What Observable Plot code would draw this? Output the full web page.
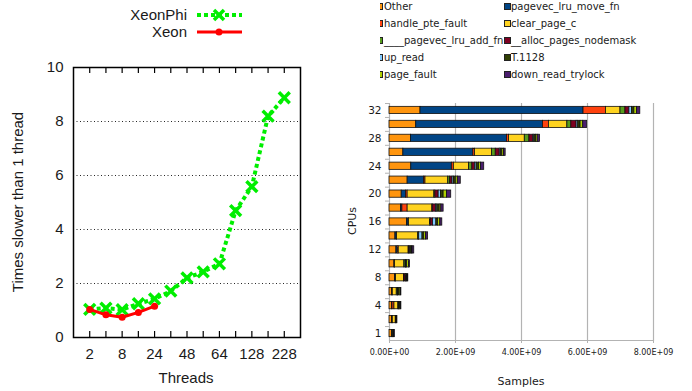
<!DOCTYPE html>
<html><head><meta charset="utf-8">
<script src="https://cdn.jsdelivr.net/npm/d3@7"></script>
<script src="https://cdn.jsdelivr.net/npm/@observablehq/plot@0.6"></script>
<style>
body{margin:0;background:#fff;}
#root{position:relative;width:692px;height:391px;overflow:hidden;background:#fff;}
.abs{position:absolute;white-space:nowrap;}
.l15{font-family:"Liberation Sans",Arial,sans-serif;font-size:15px;color:#1a1a1a;line-height:18px;}
.dv{font-family:"DejaVu Sans",sans-serif;color:#1a1a1a;}
.c{transform:translate(-50%,-50%);}
.rot{transform:translate(-50%,-50%) rotate(-90deg);}
#rlegend{position:absolute;left:380px;top:0;width:312px;height:90px;overflow:hidden;}
.li{position:absolute;font-family:"DejaVu Sans",sans-serif;font-size:10px;line-height:12px;color:#1a1a1a;white-space:nowrap;}
.sw{position:absolute;width:5px;height:5px;border:1px solid #222;}
</style></head><body>
<div id="root">
  <div id="left" class="abs" style="left:0;top:0"></div>
  <div id="right" class="abs" style="left:340px;top:0"></div>
  <div id="llegend"></div>
  <div id="rlegend"></div>
  <div class="abs l15 rot" style="left:18px;top:202px">Times slower than 1 thread</div>
  <div class="abs l15 c" style="left:186px;top:378px">Threads</div>
  <div class="abs dv rot" style="left:352px;top:221px;font-size:11px">CPUs</div>
  <div class="abs dv c" style="left:521px;top:381px;font-size:11px">Samples</div>
</div>
<script>
// ---------- left chart data ----------
const threads = ["2","4","8","16","24","32","48","56","64","96","128","192","228"];
const threadTickLabels = ["2","8","24","48","64","128","228"];
const xeonPhi = [1.04,1.09,1.03,1.25,1.43,1.72,2.21,2.43,2.73,4.70,5.59,8.20,8.88];
const xeon = [1.04,0.84,0.75,0.93,1.16];
const slowTicks = [0,2,4,6,8,10];
const gridLevels = [2,4,6,8];
const seriesLine = ["XeonPhi","Xeon"];
const lineColors = ["#00ee00","#ff0000"];

// ---------- right chart data (values in units of 1e9 samples) ----------
const cpus = ["1","2","4","6","8","10","12","14","16","18","20","22","24","26","28","30","32"];
const cpuTickLabels = ["1","4","8","12","16","20","24","28","32"];
const seriesNames = ["Other","pagevec_lru_move_fn","handle_pte_fault","clear_page_c","____pagevec_lru_add_fn","__alloc_pages_nodemask","up_read","T.1128","page_fault","down_read_trylock"];
const seriesColors = ["#ff950e","#004586","#ff420e","#ffd320","#579d1c","#7e0021","#83caff","#314004","#aecf00","#4b1f6f"];
const other          = [0.08,0.08,0.08,0.08,0.17,0.15,0.21,0.18,0.53,0.35,0.37,0.55,0.66,0.42,0.65,0.81,0.94];
const pagevecLru     = [0.02,0.01,0.01,0.01,0.02,0.01,0.04,0.04,0.05,0.04,0.13,0.50,1.23,2.12,2.91,3.84,4.94];
const handlePte      = [0.01,0.01,0.06,0.01,0.01,0.01,0.03,0.01,0.01,0.16,0.05,0.04,0.06,0.05,0.06,0.18,0.68];
const clearPage      = [0.02,0.09,0.12,0.12,0.24,0.28,0.30,0.64,0.64,0.75,0.81,0.69,0.46,0.52,0.48,0.56,0.44];
const pagevecAdd     = [0.00,0.01,0.01,0.03,0.01,0.04,0.01,0.02,0.02,0.01,0.03,0.06,0.10,0.11,0.14,0.12,0.15];
const allocPages     = [0.00,0.01,0.01,0.01,0.04,0.01,0.04,0.01,0.07,0.10,0.10,0.07,0.08,0.12,0.12,0.16,0.12];
const upRead         = [0.00,0.00,0.00,0.01,0.01,0.01,0.01,0.10,0.10,0.04,0.07,0.04,0.05,0.03,0.03,0.05,0.08];
const t1128          = [0.02,0.02,0.03,0.04,0.03,0.02,0.04,0.05,0.05,0.07,0.08,0.06,0.07,0.05,0.05,0.07,0.07];
const pageFault      = [0.00,0.00,0.02,0.04,0.02,0.06,0.02,0.06,0.07,0.05,0.10,0.06,0.06,0.05,0.05,0.08,0.08];
const downReadTry    = [0.01,0.01,0.02,0.01,0.02,0.03,0.05,0.06,0.06,0.07,0.13,0.09,0.10,0.05,0.07,0.12,0.10];
const sampleTicks = [0,2e9,4e9,6e9,8e9];

const seriesValues = [other,pagevecLru,handlePte,clearPage,pagevecAdd,allocPages,upRead,t1128,pageFault,downReadTry];

// ---------- left chart ----------
const phiRows = threads.map((t,i)=>({t, v:xeonPhi[i]}));
const xeonRows = xeon.map((v,i)=>({t:threads[i], v}));
const L = {w:330,h:391,ml:73,mr:30,mt:67,mb:54};
const innerH = L.h - L.mt - L.mb;
const left = Plot.plot({
  width:L.w, height:L.h, marginLeft:L.ml, marginRight:L.mr, marginTop:L.mt, marginBottom:L.mb,
  style:{fontFamily:"Liberation Sans, Arial, sans-serif", fontSize:"15px", color:"#1a1a1a", background:"transparent"},
  x:{type:"point", domain:threads, padding:1, round:false, label:null},
  y:{domain:[0,10], label:null},
  marks:[
    Plot.gridY({ticks:gridLevels, stroke:"#000", strokeOpacity:0.85, strokeDasharray:"1,2.5"}),
    Plot.tickX(threads, {x:d=>d, stroke:"#000", strokeWidth:1.2, insetTop:innerH-6}),
    Plot.tickX(threads, {x:d=>d, stroke:"#000", strokeWidth:1.2, insetBottom:innerH-6}),
    Plot.axisX({ticks:threadTickLabels, tickSize:0, tickPadding:11, fontSize:15}),
    Plot.axisY({ticks:slowTicks, tickSize:0, tickPadding:10, fontSize:15}),
    Plot.frame({stroke:"#000", strokeWidth:1.5}),
    Plot.line(phiRows, {x:"t", y:"v", stroke:lineColors[0], strokeWidth:4, strokeDasharray:"4,3", strokeLinecap:"butt", strokeLinejoin:"miter"}),
    Plot.dot(phiRows, {x:"t", y:"v", symbol:"times", r:5, stroke:lineColors[0], strokeWidth:3.5}),
    Plot.line(xeonRows, {x:"t", y:"v", stroke:lineColors[1], strokeWidth:3}),
    Plot.dot(xeonRows, {x:"t", y:"v", r:3.5, fill:lineColors[1]})
  ]
});
document.getElementById("left").appendChild(left);

// left legend
const ll = document.getElementById("llegend");
seriesLine.forEach((name,i)=>{
  const cy = 15 + i*17;
  const d = document.createElement("div");
  d.className = "abs l15";
  d.style.right = (692-187)+"px";
  d.style.top = (cy-9)+"px";
  d.textContent = name;
  ll.appendChild(d);
  const s = document.createElementNS("http://www.w3.org/2000/svg","svg");
  s.setAttribute("width",50); s.setAttribute("height",16);
  s.style.position="absolute"; s.style.left="195px"; s.style.top=(cy-8)+"px";
  const col = lineColors[i];
  if(i===0){
    s.innerHTML = `<line x1="2" x2="47" y1="8" y2="8" stroke="${col}" stroke-width="4" stroke-dasharray="4,3"/>`+
      `<path d="M19,3L29,13M19,13L29,3" stroke="${col}" stroke-width="3.5"/>`;
  } else {
    s.innerHTML = `<line x1="2" x2="47" y1="8" y2="8" stroke="${col}" stroke-width="3"/>`+
      `<circle cx="24" cy="8" r="3.5" fill="${col}"/>`;
  }
  ll.appendChild(s);
});

// ---------- right chart ----------
const rows = [];
cpus.forEach((c,i)=>{
  seriesNames.forEach((s,j)=>{
    const v = seriesValues[j][i];
    if(v>0) rows.push({cpu:c, series:s, value:v*1e9});
  });
});
const R = {w:352,h:391,ml:49,mr:39,mt:103,mb:51};
const step = (R.h - R.mt - R.mb)/cpus.length;
const sci = d => {
  if(d===0) return "0.00E+00";
  const e = Math.floor(Math.log10(Math.abs(d)));
  const m = d/Math.pow(10,e);
  return m.toFixed(2)+"E"+(e<0?"-":"+")+String(Math.abs(e)).padStart(2,"0");
};
const right = Plot.plot({
  width:R.w, height:R.h, marginLeft:R.ml, marginRight:R.mr, marginTop:R.mt, marginBottom:R.mb,
  style:{fontFamily:"DejaVu Sans, sans-serif", fontSize:"10px", color:"#1a1a1a", background:"transparent"},
  x:{domain:[0,8e9], label:null},
  y:{type:"band", domain:[...cpus].reverse(), paddingInner:0.48, paddingOuter:0.24, round:false, label:null},
  color:{domain:seriesNames, range:seriesColors},
  marks:[
    Plot.gridX({ticks:sampleTicks, stroke:"#b3b3b3", strokeOpacity:1, strokeWidth:1.2}),
    Plot.frame({anchor:"bottom", stroke:"#b3b3b3", strokeWidth:1.2}),
    Plot.axisX({ticks:sampleTicks, tickSize:3, stroke:"#b3b3b3", tickPadding:6, tickFormat:sci, fontSize:8}),
    Plot.axisY({ticks:cpus, tickSize:4, tickFormat:()=>"", dy:-step/2, stroke:"#b3b3b3"}),
    Plot.axisY({ticks:cpuTickLabels, tickSize:0, tickPadding:8, fontSize:10.5}),
    Plot.barX(rows, {x:"value", y:"cpu", fill:"series", order:seriesNames, stroke:"#111", strokeWidth:0.8})
  ]
});
document.getElementById("right").appendChild(right);

// right legend (two columns, row-major order)
const rl = document.getElementById("rlegend");
seriesNames.forEach((s,j)=>{
  const col = j%2, row = Math.floor(j/2);
  const cy = 6.5 + row*17;
  const sw = document.createElement("div");
  sw.className="sw";
  sw.style.background = seriesColors[j];
  sw.style.left = (col===0 ? -4 : 124)+"px";
  sw.style.top = (cy-3.5)+"px";
  rl.appendChild(sw);
  const t = document.createElement("div");
  t.className="li";
  t.style.left = (col===0 ? 4 : 131)+"px";
  t.style.top = (cy-6)+"px";
  t.textContent = s;
  rl.appendChild(t);
});
</script>
</body></html>
